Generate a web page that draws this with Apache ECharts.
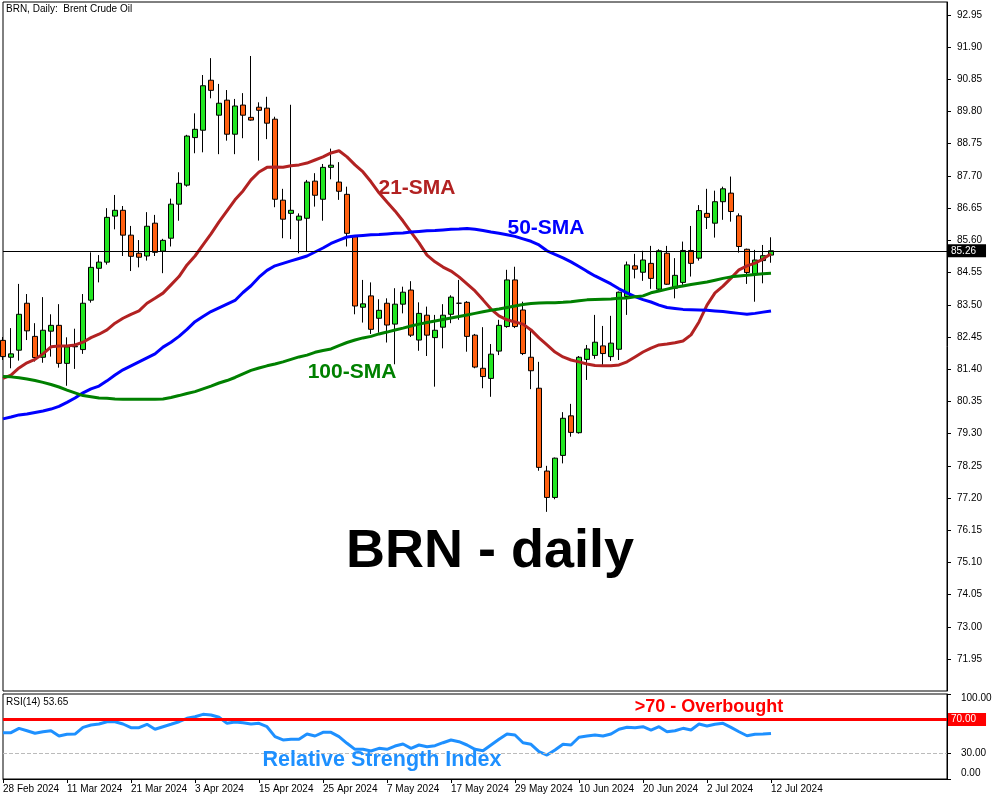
<!DOCTYPE html>
<html><head><meta charset="utf-8">
<script src="https://cdn.jsdelivr.net/npm/echarts@6/dist/echarts.min.js"></script>
<style>html,body{margin:0;padding:0;background:#fff}#c{width:1000px;height:800px}</style>
</head><body><div id="c"></div>
<script>
const dates = [
'28 Feb 2024','29 Feb 2024','1 Mar 2024','4 Mar 2024','5 Mar 2024','6 Mar 2024','7 Mar 2024','8 Mar 2024',
'11 Mar 2024','12 Mar 2024','13 Mar 2024','14 Mar 2024','15 Mar 2024','18 Mar 2024','19 Mar 2024','20 Mar 2024',
'21 Mar 2024','22 Mar 2024','25 Mar 2024','26 Mar 2024','27 Mar 2024','28 Mar 2024','1 Apr 2024','2 Apr 2024',
'3 Apr 2024','4 Apr 2024','5 Apr 2024','8 Apr 2024','9 Apr 2024','10 Apr 2024','11 Apr 2024','12 Apr 2024',
'15 Apr 2024','16 Apr 2024','17 Apr 2024','18 Apr 2024','19 Apr 2024','22 Apr 2024','23 Apr 2024','24 Apr 2024',
'25 Apr 2024','26 Apr 2024','29 Apr 2024','30 Apr 2024','1 May 2024','2 May 2024','3 May 2024','6 May 2024',
'7 May 2024','8 May 2024','9 May 2024','10 May 2024','13 May 2024','14 May 2024','15 May 2024','16 May 2024',
'17 May 2024','20 May 2024','21 May 2024','22 May 2024','23 May 2024','24 May 2024','27 May 2024','28 May 2024',
'29 May 2024','30 May 2024','31 May 2024','3 Jun 2024','4 Jun 2024','5 Jun 2024','6 Jun 2024','7 Jun 2024',
'10 Jun 2024','11 Jun 2024','12 Jun 2024','13 Jun 2024','14 Jun 2024','17 Jun 2024','18 Jun 2024','19 Jun 2024',
'20 Jun 2024','21 Jun 2024','24 Jun 2024','25 Jun 2024','26 Jun 2024','27 Jun 2024','28 Jun 2024','1 Jul 2024',
'2 Jul 2024','3 Jul 2024','4 Jul 2024','5 Jul 2024','8 Jul 2024','9 Jul 2024','10 Jul 2024','11 Jul 2024',
'12 Jul 2024'];

const opens = [
82.34,81.79,82.02,83.55,82.47,81.79,82.64,82.83,
81.59,82.13,82.04,83.65,84.69,84.89,86.39,86.58,
85.77,85.18,85.09,86.16,85.25,85.67,86.78,87.40,
88.95,89.19,90.82,89.68,90.17,89.06,90.01,89.61,
89.94,89.91,89.55,86.91,86.48,86.26,86.32,87.53,
86.94,87.98,87.50,87.10,85.72,83.42,83.79,83.06,
83.55,82.87,83.52,83.98,82.35,83.16,82.43,82.77,
83.19,83.55,83.58,82.51,81.43,81.10,81.99,82.79,
84.31,83.33,81.79,80.78,78.08,77.22,78.59,79.88,
79.33,81.72,81.85,82.16,81.81,82.05,83.77,84.77,
84.56,84.85,84.01,85.18,84.04,84.23,85.27,85.02,
86.48,86.16,86.86,87.14,86.40,85.31,84.51,84.94,
85.12];
const highs = [
82.45,82.74,84.18,83.85,82.90,83.75,83.19,83.52,
82.44,82.72,83.85,85.21,85.12,86.65,87.08,86.72,
86.07,85.61,86.52,86.43,85.65,86.96,87.82,89.04,
89.74,90.99,91.54,90.70,90.50,90.21,90.40,91.61,
90.10,90.28,89.63,87.28,90.02,86.48,87.57,87.79,
88.09,88.59,88.15,87.35,85.74,84.31,84.23,83.68,
83.71,84.04,84.09,84.27,83.58,83.44,83.17,83.52,
83.81,84.31,83.62,82.55,82.77,82.22,83.01,84.64,
84.74,83.60,82.68,81.64,78.25,78.52,80.00,80.27,
81.83,82.19,83.17,82.81,83.14,83.93,84.91,85.16,
85.26,85.42,85.31,85.42,85.02,85.56,86.07,86.75,
87.28,87.22,87.35,87.68,86.48,85.33,85.29,85.45,
85.70];
const lows = [
81.70,81.43,81.68,82.35,81.65,81.61,81.81,81.45,
80.86,81.41,81.90,83.57,84.23,84.81,85.96,85.09,
84.60,84.72,84.94,85.09,84.53,85.40,86.24,87.35,
88.44,88.47,90.23,88.41,88.85,88.41,88.93,89.50,
88.20,88.90,86.68,85.67,85.64,85.18,85.23,86.70,
86.24,87.59,86.92,85.40,83.19,82.92,82.55,82.59,
82.27,81.56,83.22,82.45,82.00,81.83,80.83,82.08,
82.90,83.01,81.97,81.43,80.78,80.50,81.86,82.75,
82.74,81.86,80.75,78.09,76.75,77.16,78.33,79.20,
79.30,81.05,81.74,81.54,81.67,81.70,83.17,84.36,
84.28,84.02,83.96,84.15,83.71,84.15,84.42,84.94,
85.97,85.69,86.27,86.21,85.20,84.18,83.60,84.20,
84.87];
const closes = [
81.81,81.90,83.19,82.65,81.78,82.67,82.83,81.59,
82.13,82.15,83.55,84.72,84.89,86.35,86.58,85.77,
85.08,85.05,86.06,85.21,85.60,86.78,87.46,89.00,
89.22,90.64,90.49,90.07,89.06,89.98,89.68,89.52,
89.84,89.42,86.94,86.29,86.58,86.39,87.50,87.07,
87.98,88.05,87.20,85.83,83.46,83.53,82.70,83.32,
82.84,83.52,83.91,82.51,83.22,82.51,82.67,83.16,
83.75,83.55,82.47,81.47,81.16,81.89,82.83,84.31,
82.79,81.91,81.35,78.20,77.22,78.50,79.80,79.34,
81.79,82.06,82.28,81.91,82.25,83.91,84.80,84.66,
84.96,84.36,85.26,84.17,84.46,85.27,84.85,86.57,
86.35,86.86,87.28,86.54,85.40,84.55,84.96,85.10,
85.26];

const sma21 = [
81.10,81.21,81.44,81.61,81.72,81.90,82.13,82.16,
82.16,82.19,82.28,82.43,82.54,82.68,82.90,83.06,
83.19,83.30,83.55,83.71,83.88,84.15,84.42,84.80,
85.09,85.45,85.81,86.20,86.56,86.92,87.21,87.57,
87.83,87.98,87.99,87.98,88.03,88.06,88.12,88.22,
88.32,88.45,88.52,88.32,88.06,87.83,87.51,87.15,
86.85,86.56,86.23,85.87,85.52,85.12,84.90,84.73,
84.60,84.41,84.18,83.95,83.66,83.36,83.14,83.01,
82.94,82.87,82.68,82.42,82.19,81.96,81.80,81.70,
81.64,81.57,81.52,81.51,81.51,81.54,81.64,81.80,
81.96,82.09,82.19,82.22,82.26,82.32,82.52,82.94,
83.49,83.89,84.11,84.37,84.64,84.77,84.86,84.99,
85.16];
const sma50 = [
79.78,79.84,79.91,79.94,79.99,80.04,80.10,80.19,
80.32,80.46,80.63,80.76,80.85,81.02,81.21,81.38,
81.51,81.64,81.77,81.90,82.12,82.28,82.47,82.70,
82.95,83.12,83.28,83.40,83.52,83.64,83.90,84.12,
84.40,84.62,84.77,84.85,84.93,85.01,85.09,85.22,
85.35,85.50,85.61,85.71,85.74,85.76,85.78,85.79,
85.81,85.83,85.84,85.87,85.89,85.91,85.92,85.94,
85.96,85.97,85.99,85.96,85.92,85.87,85.83,85.78,
85.73,85.65,85.57,85.45,85.26,85.14,85.03,84.90,
84.75,84.59,84.44,84.31,84.18,84.02,83.89,83.77,
83.67,83.59,83.49,83.41,83.38,83.35,83.34,83.33,
83.32,83.30,83.28,83.25,83.22,83.19,83.22,83.26,
83.30];
const sma100 = [
81.16,81.15,81.12,81.08,81.03,80.97,80.90,80.82,
80.72,80.63,80.54,80.50,80.46,80.45,80.43,80.42,
80.42,80.42,80.42,80.42,80.43,80.48,80.54,80.61,
80.67,80.76,80.85,80.95,81.03,81.13,81.25,81.36,
81.44,81.51,81.57,81.64,81.72,81.80,81.86,81.95,
82.01,82.06,82.17,82.27,82.35,82.42,82.47,82.55,
82.61,82.68,82.74,82.81,82.87,82.92,82.97,83.02,
83.07,83.12,83.17,83.22,83.27,83.32,83.36,83.41,
83.46,83.51,83.54,83.56,83.57,83.57,83.58,83.60,
83.63,83.66,83.67,83.68,83.69,83.71,83.72,83.76,
83.79,83.89,83.95,84.01,84.07,84.11,84.16,84.20,
84.24,84.30,84.36,84.41,84.44,84.46,84.49,84.51,
84.53];
const rsi14 = [
54.5,54.5,59.6,56.8,53.8,55.6,56.8,50.6,
52.6,52.9,60.8,63.5,64.7,67.4,67.4,64.7,
60.4,60.4,64.4,58.5,61.5,64.4,67.4,71.4,
73.3,76.1,75.3,72.6,65.5,67.1,66.2,64.7,
65.5,61.5,49.8,45.9,46.7,46.7,52.9,50.6,
54.9,54.9,49.8,42.0,34.9,34.9,32.9,36.1,
34.9,38.8,41.2,36.1,40.0,38.0,39.2,42.7,
45.9,43.9,40.0,34.9,33.3,40.0,46.7,52.9,
51.8,42.7,40.8,32.1,28.2,34.1,40.8,40.0,
49.1,50.6,51.8,50.6,52.9,58.5,60.8,60.4,
61.5,57.6,61.5,55.6,56.8,59.6,57.6,64.7,
62.4,64.4,65.5,60.8,55.6,50.9,52.6,52.9,
53.65];

const priceTicks = [71.95,73.00,74.05,75.10,76.15,77.20,78.25,79.30,80.35,81.40,82.45,83.50,84.55,85.60,86.65,87.70,88.75,89.80,90.85,91.90,92.95];
const rsiTicks = [0, 30, 100];
const lastPrice = 85.26;
const rsiLast = 53.65;
const overbought = 70;
const oversold = 30;
const emptyBars = 22;

const categories = dates.concat(new Array(emptyBars).fill(''));
const candles = dates.map((d, i) => [opens[i], closes[i], lows[i], highs[i]]);
const FONT = '"Liberation Sans", Arial, sans-serif';
const showTick = (i) => i % 8 === 0 && i < dates.length;

const chart = echarts.init(document.getElementById('c'), null, {renderer: 'canvas'});
const option = {
  animation: false,
  backgroundColor: '#fff',
  grid: [
    {left: 3, top: 2, width: 944, height: 689, show: true, borderColor: '#000', borderWidth: 1, backgroundColor: '#fff'},
    {left: 3, top: 694, width: 944, height: 85, show: true, borderColor: '#000', borderWidth: 1, backgroundColor: '#fff'}
  ],
  xAxis: [
    {type: 'category', gridIndex: 0, data: categories, boundaryGap: false,
     axisLine: {show: false}, axisTick: {show: false}, axisLabel: {show: false}, splitLine: {show: false}},
    {type: 'category', gridIndex: 1, data: categories, boundaryGap: false,
     axisLine: {show: true, lineStyle: {color: '#000', width: 1}},
     axisTick: {show: true, length: 4, interval: showTick, lineStyle: {color: '#000'}},
     axisLabel: {interval: showTick, align: 'left', color: '#000', fontSize: 10, fontFamily: FONT, margin: 5},
     splitLine: {show: false}}
  ],
  yAxis: [
    {type: 'value', gridIndex: 0, position: 'right', min: 70.91, max: 93.37,
     splitLine: {show: false},
     axisLine: {show: true, lineStyle: {color: '#000'}},
     axisTick: {show: true, length: 4, customValues: priceTicks, lineStyle: {color: '#000'}},
     axisLabel: {customValues: priceTicks, formatter: v => Number(v).toFixed(2), color: '#000', fontSize: 10, fontFamily: FONT, margin: 10}},
    {type: 'value', gridIndex: 1, position: 'right', min: 0, max: 100,
     splitLine: {show: false},
     axisLine: {show: true, lineStyle: {color: '#000'}},
     axisTick: {show: true, length: 4, customValues: rsiTicks, lineStyle: {color: '#000'}},
     axisLabel: {customValues: rsiTicks, color: '#000', fontSize: 10, fontFamily: FONT, margin: 14,
       formatter: v => {
         const t = Number(v).toFixed(2);
         if (Number(v) >= 100) return '{t|' + t + '}';
         if (Number(v) <= 0) return '{b|' + t + '}';
         return t;
       },
       rich: {
         t: {fontSize: 10, fontFamily: FONT, color: '#000', padding: [8, 0, 0, 0]},
         b: {fontSize: 10, fontFamily: FONT, color: '#000', padding: [0, 0, 11, 0]}
       }}}
  ],
  series: [
    {type: 'candlestick', xAxisIndex: 0, yAxisIndex: 0, data: candles, barWidth: 5, z: 2,
     itemStyle: {color: '#22E622', color0: '#FF6010', borderColor: '#000', borderColor0: '#000', borderColorDoji: '#000', borderWidth: 1},
     markLine: {symbol: 'none', silent: true, animation: false,
       data: [{yAxis: lastPrice}],
       lineStyle: {color: '#000', width: 1, type: 'solid'},
       label: {show: true, position: 'end', distance: 1, formatter: lastPrice.toFixed(2), backgroundColor: '#000', color: '#fff',
               padding: [2, 10, 1, 3], fontSize: 10, fontFamily: FONT}}},
    {type: 'line', name: '21-SMA', xAxisIndex: 0, yAxisIndex: 0, data: sma21, symbol: 'none', z: 4,
     lineStyle: {color: '#B22222', width: 3}},
    {type: 'line', name: '50-SMA', xAxisIndex: 0, yAxisIndex: 0, data: sma50, symbol: 'none', z: 4,
     lineStyle: {color: '#0000FF', width: 3}},
    {type: 'line', name: '100-SMA', xAxisIndex: 0, yAxisIndex: 0, data: sma100, symbol: 'none', z: 4,
     lineStyle: {color: '#008000', width: 3}},
    {type: 'line', name: 'RSI', xAxisIndex: 1, yAxisIndex: 1, data: rsi14, symbol: 'none', z: 4,
     lineStyle: {color: '#1E90FF', width: 3},
     markLine: {symbol: 'none', silent: true, animation: false,
       data: [
         {yAxis: overbought, lineStyle: {color: '#FF0000', width: 3, type: 'solid'},
          label: {show: true, position: 'end', distance: 1, formatter: overbought.toFixed(2), backgroundColor: '#FF0000', color: '#fff',
                  padding: [2, 10, 1, 3], fontSize: 10, fontFamily: FONT}},
         {yAxis: oversold, lineStyle: {color: '#BBBBBB', width: 1, type: 'dashed'}, label: {show: false}}
       ]}}
  ],
  graphic: [
    {type: 'text', x: 6, y: 4, z: 10, style: {text: 'BRN, Daily:  Brent Crude Oil', font: '10px ' + FONT, fill: '#000'}},
    {type: 'text', x: 6, y: 697, z: 10, style: {text: 'RSI(14) ' + rsiLast.toFixed(2), font: '10px ' + FONT, fill: '#000'}},
    {type: 'text', x: 417, y: 188, z: 10, style: {text: '21-SMA', font: 'bold 21px ' + FONT, fill: '#B22222', textAlign: 'center', textVerticalAlign: 'middle'}},
    {type: 'text', x: 546, y: 228, z: 10, style: {text: '50-SMA', font: 'bold 21px ' + FONT, fill: '#0000FF', textAlign: 'center', textVerticalAlign: 'middle'}},
    {type: 'text', x: 352, y: 372, z: 10, style: {text: '100-SMA', font: 'bold 21px ' + FONT, fill: '#008000', textAlign: 'center', textVerticalAlign: 'middle'}},
    {type: 'text', x: 490, y: 552, z: 10, style: {text: 'BRN - daily', font: 'bold 54px ' + FONT, fill: '#000', textAlign: 'center', textVerticalAlign: 'middle'}},
    {type: 'text', x: 709, y: 707, z: 10, style: {text: '>70 - Overbought', font: 'bold 18px ' + FONT, fill: '#FF0000', textAlign: 'center', textVerticalAlign: 'middle'}},
    {type: 'text', x: 382, y: 760, z: 10, style: {text: 'Relative Strength Index', font: 'bold 21.5px ' + FONT, fill: '#1E90FF', textAlign: 'center', textVerticalAlign: 'middle'}}
  ]
};
chart.setOption(option);
</script></body></html>
